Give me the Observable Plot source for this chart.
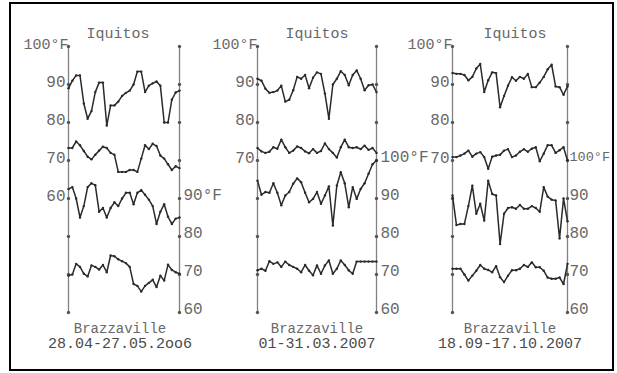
<!DOCTYPE html>
<html>
<head>
<meta charset="utf-8">
<script src="https://cdn.jsdelivr.net/npm/d3@7"></script>
<script src="https://cdn.jsdelivr.net/npm/@observablehq/plot@0.6"></script>
<style>
  body { margin: 0; background: #fff; }
  #wrap { position: relative; width: 617px; height: 373px; overflow: hidden; background: #fff; }
  #frame { position: absolute; left: 9px; top: 2px; width: 605px; height: 369px; border: 2.5px solid #000; box-sizing: border-box; }
  #wrap svg { position: absolute; left: 0; top: 0; overflow: visible; }
</style>
</head>
<body>
<div id="wrap"><div id="frame"></div></div>
<script>
// ---- Panel 1: 28.04-27.05.2006 (30 days) ----
const iqMax1 = [89, 91, 92.4, 92.4, 85, 81, 83, 88, 90.5, 90.5, 79.2, 84.5, 84.5, 85.5, 87, 87.8, 88.4, 90, 93.4, 93.4, 88, 89.7, 90.3, 90.8, 89.7, 80, 80, 86, 87.9, 88.4];
const iqMin1 = [73.3, 73.3, 75, 74, 72.5, 71, 70.3, 71.5, 72.6, 73.6, 73.3, 72, 71.5, 67, 67, 67, 67.5, 67.5, 67, 70.5, 74, 73, 74.4, 73.8, 71.3, 70.5, 69, 67.5, 68.5, 68];
const brMax1 = [92.5, 93, 90, 85, 88, 93, 94, 93.5, 86.5, 87.5, 85, 87.5, 89, 88, 90, 91.5, 91.5, 88.5, 91.5, 92.2, 91, 89.7, 88, 83.3, 86.5, 88.5, 85.2, 83.3, 84.7, 85];
const brMin1 = [69.7, 70, 72.8, 72, 70.2, 69.5, 72.4, 72, 71.3, 72.5, 70.6, 75, 74.8, 74, 73.5, 73, 72, 67.5, 67, 65.5, 67, 67.8, 68.6, 66.7, 69.7, 68.4, 72.6, 71.2, 70.6, 70.2];

// ---- Panel 2: 01-31.03.2007 (31 days) ----
const iqMax2 = [91.5, 91, 88.9, 87.8, 88, 88.4, 89.7, 85.5, 86, 88.5, 92, 91.5, 92.5, 89, 91.8, 93.2, 92.8, 87.6, 81, 90, 91.5, 93.5, 92.5, 89.8, 92.5, 93.7, 91.5, 88.5, 89.8, 90, 88];
const iqMin2 = [73.3, 72.4, 72, 72.3, 73.5, 73.1, 75.5, 73.5, 72, 72.6, 73.7, 73.3, 72.4, 71.9, 73, 72, 72.5, 74.5, 73, 72, 70.8, 73.5, 75.5, 73.5, 73.3, 73.5, 73, 73.9, 72.8, 73.3, 72];
const brMax2 = [94.7, 91, 91.7, 91.5, 94, 91.5, 88.2, 90.8, 91.7, 93.9, 95.3, 94.3, 91.5, 89, 89.9, 91.7, 88.6, 90.8, 93.2, 82.9, 93.4, 96.9, 94, 87.7, 93, 89.9, 92.5, 94, 96.5, 99, 100];
const brMin2 = [71.1, 71.5, 71, 73.5, 72.8, 73.2, 72, 73.4, 72.5, 72, 71.5, 70.6, 72.5, 71, 69.8, 72.4, 70.2, 72.4, 73.7, 70.2, 71.5, 73.7, 72.5, 71.1, 70.2, 73.4, 73.4, 73.4, 73.4, 73.4, 73.4];

// ---- Panel 3: 18.09-17.10.2007 (30 days) ----
const iqMax3 = [93, 92.8, 92.8, 92.5, 91.1, 92, 94.2, 95.4, 88, 91.1, 93.2, 93, 84, 87, 89.7, 91.9, 91, 92, 91.5, 92.8, 89.3, 89.3, 90.5, 92, 94, 95.2, 89.5, 89.3, 87.3, 89.5];
const iqMin3 = [70.9, 70.9, 71.3, 71.8, 72.6, 71, 71.8, 72.2, 70.9, 67.8, 71, 71.3, 71.5, 72.6, 73, 70.9, 71.3, 72.3, 73, 72.3, 73.1, 73.5, 69.8, 71.8, 74, 74, 72, 72.7, 73.5, 70];
const brMax3 = [90.8, 83, 83.3, 83.3, 88, 93.4, 86, 88.6, 84.2, 94.7, 91.2, 90.8, 78, 86, 87.5, 87.7, 87.3, 88.3, 87.3, 87.3, 88, 87.5, 86.5, 93, 90.5, 89.7, 89.5, 79.5, 90, 84];
const brMin3 = [71.5, 71.5, 71.5, 70, 68.4, 69.7, 71, 72.5, 71.5, 71.2, 70.6, 72.2, 69.3, 68, 69.7, 71.1, 71.1, 71.5, 72.5, 72, 73.2, 71.9, 71.9, 71, 69.2, 68.9, 68.9, 69.2, 67.5, 72.8];

// ---- Axis / label values ----
const tickValues = [30, 40, 50, 60, 70, 80, 90, 100];      // dots on both axes (Iquitos °F scale)
const topLabel = "100°F";
const leftTicks1 = [90, 80, 70, 60];
const leftTicks2 = [90, 80, 70];
const leftTicks3 = [90, 80, 70];
const rightTicks1 = [90, 80, 70, 60];                     // Brazzaville °F scale
const rightTicks2 = [100, 90, 80, 70, 60];
const rightTicks3 = [100, 90, 80, 70, 60];
const titleTop = "Iquitos";
const titleBottom = "Brazzaville";
const periods = ["28.04-27.05.2oo6", "01-31.03.2007", "18.09-17.10.2007"];
const BRAZZ_OFFSET = 30; // Brazzaville scale is shifted 30°F below the Iquitos scale

const panels = [
  {iqMax: iqMax1, iqMin: iqMin1, brMax: brMax1, brMin: brMin1, left: leftTicks1, right: rightTicks1, period: periods[0], x0: 68, x1: 179, titleDx: -6, capDx: -4, rightDx: 4, firstRightSize: 16},
  {iqMax: iqMax2, iqMin: iqMin2, brMax: brMax2, brMin: brMin2, left: leftTicks2, right: rightTicks2, period: periods[1], x0: 257, x1: 376, titleDx: 0, capDx: 0, rightDx: 4, firstRightSize: 16},
  {iqMax: iqMax3, iqMin: iqMin3, brMax: brMax3, brMin: brMin3, left: leftTicks3, right: rightTicks3, period: periods[2], x0: 452, x1: 567, titleDx: 5, capDx: 0, rightDx: 2, firstRightSize: 13.5}
];

const W = 617, H = 373;
const ink = "#2a2a2a", axisInk = "#808080", textInk = "#686868";
const font = "Liberation Mono, Courier New, monospace";

const wrap = document.getElementById("wrap");

for (const p of panels) {
  const n = p.iqMax.length;
  const last = n - 1;
  const br = d => d - BRAZZ_OFFSET;
  const series = [
    {data: p.iqMax, f: d => d},
    {data: p.iqMin, f: d => d},
    {data: p.brMax, f: br},
    {data: p.brMin, f: br}
  ];
  const tickDots = tickValues.flatMap(v => [{x: 0, y: v}, {x: last, y: v}]);
  const marks = [
    Plot.ruleX([0, last], {y1: () => tickValues[0], y2: () => tickValues[tickValues.length - 1], stroke: axisInk, strokeWidth: 1.3}),
    Plot.dot(tickDots, {x: "x", y: "y", r: 1.7, fill: "#555", stroke: "none"})
  ];
  for (const s of series) {
    marks.push(Plot.line(s.data, {x: (d, i) => i, y: s.f, stroke: ink, strokeWidth: 1.5, strokeLinejoin: "round"}));
    marks.push(Plot.dot(s.data, {x: (d, i) => i, y: s.f, r: 1.2, fill: ink, stroke: "none"}));
  }
  const rightFirst = p.right.slice(0, 1);
  const rightRest = p.right.slice(1);
  marks.push(
    Plot.text([topLabel], {x: () => 0, y: () => tickValues[tickValues.length - 1], text: d => d, textAnchor: "end", dx: 0, dy: -2, fontSize: 15, fill: textInk}),
    Plot.text(p.left, {x: () => 0, y: d => d, text: d => String(d), textAnchor: "end", dx: -3, dy: -3, fontSize: 16, fill: textInk}),
    Plot.text(rightFirst, {x: () => last, y: br, text: d => d + "°F", textAnchor: "start", dx: p.rightDx, dy: -4, fontSize: p.firstRightSize, fill: textInk}),
    Plot.text(rightRest, {x: () => last, y: br, text: d => String(d), textAnchor: "start", dx: p.rightDx, dy: -4, fontSize: 16, fill: textInk}),
    Plot.text([titleTop], {frameAnchor: "top", lineAnchor: "middle", dx: p.titleDx, dy: -13, fontSize: 15, fill: textInk}),
    Plot.text([titleBottom], {frameAnchor: "bottom", lineAnchor: "middle", dx: p.capDx, dy: 16, fontSize: 14, fill: textInk}),
    Plot.text([p.period], {frameAnchor: "bottom", lineAnchor: "middle", dx: p.capDx, dy: 31, fontSize: 15, fill: "#4a4a4a"})
  );
  const svg = Plot.plot({
    width: W, height: H,
    marginLeft: p.x0, marginRight: W - p.x1, marginTop: 46, marginBottom: H - 312,
    x: {domain: [0, last], axis: null},
    y: {domain: [tickValues[0], tickValues[tickValues.length - 1]], axis: null},
    style: {background: "transparent", fontFamily: font, overflow: "visible"},
    marks
  });
  wrap.appendChild(svg);
}
</script>
</body>
</html>
